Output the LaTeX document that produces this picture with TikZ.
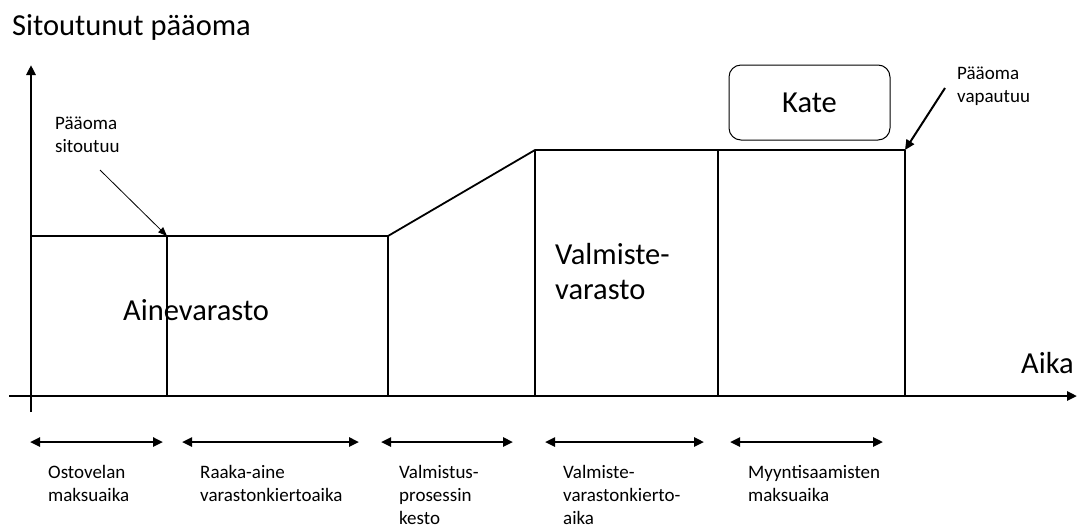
\documentclass[tikz,border=0pt]{standalone}
\usepackage{fontspec}
\setmainfont{Carlito}
\usetikzlibrary{positioning,arrows.meta,calc}
\begin{document}
\begin{tikzpicture}[x=1pt,y=-1pt,
  axis/.style={line width=2.6pt,-{Triangle[length=10pt,width=9pt]}},
  level/.style={line width=1.8pt},
  span/.style={line width=2.4pt,{Triangle[length=10pt,width=9pt]}-{Triangle[length=10pt,width=9pt]}},
  lbl/.style={font=\fontsize{19}{23}\selectfont,align=left,anchor=north west,inner sep=0pt,
    execute at begin node=\strut,yshift=16.1pt},
  big/.style={font=\fontsize{30.5}{35}\selectfont,align=left,anchor=north west,inner sep=0pt,
    execute at begin node=\strut,yshift=24.5pt}]
\useasboundingbox (0,0) rectangle (1082,531);
% axes
\coordinate (o) at (31,396);
\coordinate (ytop) at (31,65);
\coordinate (ybot) at (31,412);
\coordinate (xl) at (9,396);
\coordinate (xr) at (1077,396);
\draw[axis] (ybot) -- (ytop);
\draw[axis] (xl) -- (xr);
\node[big] (yl) at (12,35) {Sitoutunut pääoma};
\node[big] (aika) at (1021,373) {Aika};
% bound capital
\coordinate (a0) at (31,236);
\coordinate (a1) at (167,236);
\coordinate (a2) at (388,236);
\coordinate (b0) at (535,150);
\coordinate (b1) at (718,150);
\coordinate (b2) at (905,150);
\draw[level] (a0) -- (a1) -- (a2) -- (b0) -- (b1) -- (b2);
\foreach \p in {a1,a2,b0,b1,b2}
  \draw[level] (\p) -- (\p |- o);
\node[big] (aine) at (123,320) {Ainevarasto};
\node[big] (valm) at (555,268) {Valmiste-\\varasto};
% margin
\node[draw,line width=1pt,rounded corners=12pt,minimum width=161pt,minimum height=75pt,
  font=\fontsize{30.5}{35}\selectfont] (kate) at (809.5,102.5) {Kate};
% callouts
\node[lbl] (sit) at (55,133) {Pääoma\\sitoutuu};
\coordinate (sits) at (100,170);
\draw[line width=0.8pt,-{Triangle[length=9pt,width=7pt]}] (sits) -- (a1);
\node[lbl] (vap) at (957,83) {Pääoma\\vapautuu};
\coordinate (vaps) at (945,88);
\draw[line width=2pt,-{Triangle[length=10pt,width=9pt]}] (vaps) -- (b2);
% periods
\foreach \i/\xa/\xb/\t in {1/30/163/{Ostovelan\\maksuaika},
    2/182/359/{Raaka-aine\\varastonkiertoaika},
    3/381/513/{Valmistus-\\prosessin\\kesto},
    4/545/704/{Valmiste-\\varastonkierto-\\aika},
    5/730/883/{Myyntisaamisten\\maksuaika}}{
  \coordinate (s\i) at (\xa,442);
  \coordinate (e\i) at (\xb,442);
  \draw[span] (s\i) -- (e\i);
  \node[lbl] (t\i) at ($(s\i)+(18,39)$) {\t};
}
\end{tikzpicture}
\end{document}
